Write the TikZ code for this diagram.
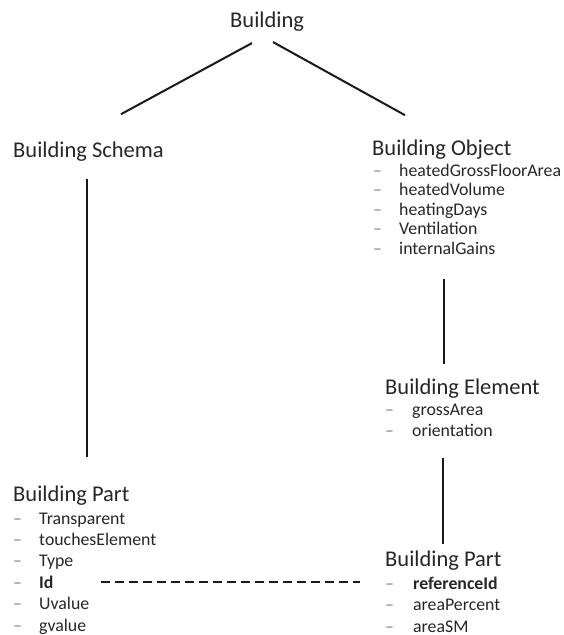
\documentclass[tikz,border=0pt]{standalone}
\usepackage{fontspec}
\setmainfont{Carlito}
\usetikzlibrary{calc}

\tikzset{
  head/.style={anchor=base west, inner sep=0pt, text=black!85, font=\fontsize{22.5}{27}\selectfont},
  attr/.style={anchor=base west, inner sep=0pt, text=black!85, font=\fontsize{17.8}{21}\selectfont},
  bullet/.style={anchor=base west, inner sep=0pt, text=black!50, font=\fontsize{17.8}{21}\selectfont},
  link/.style={line width=2pt, black!90},
  reflink/.style={line width=2.5pt, black!90, dash pattern=on 9pt off 5pt},
}

\begin{document}
\begin{tikzpicture}[x=1pt,y=-1pt]
\useasboundingbox (0,0) rectangle (563,635);

% Headings
\node[head] (building) at (230,27) {Building};
\node[head] (schema) at (13,157) {Building Schema};
\node[head] (object) at (372,155) {Building Object};
\node[head] (element) at (385,394) {Building Element};
\node[head] (lpart) at (13,501) {Building Part};
\node[head] (rpart) at (385,566) {Building Part};

% Attributes
\foreach \t [count=\i] in {heatedGrossFloorArea,heatedVolume,heatingDays,Ventilation,internalGains} {
  \node[bullet] (obd\i) at (373,{176+19.5*(\i-1)}) {–};
  \node[attr] (ob\i) at (399,{176+19.5*(\i-1)}) {\t};
}
\foreach \t [count=\i] in {grossArea,orientation} {
  \node[bullet] (eld\i) at (385,{415+21*(\i-1)}) {–};
  \node[attr] (el\i) at (412,{415+21*(\i-1)}) {\t};
}
\foreach \t [count=\i] in {Transparent,touchesElement,Type,{\textbf{Id}},Uvalue,gvalue} {
  \node[bullet] (lpd\i) at (13,{524+21.4*(\i-1)}) {–};
  \node[attr] (lp\i) at (39,{524+21.4*(\i-1)}) {\t};
}
\foreach \t [count=\i] in {{\textbf{referenceId}},areaPercent,areaSM} {
  \node[bullet] (rpd\i) at (385,{589+21.5*(\i-1)}) {–};
  \node[attr] (rp\i) at (413,{589+21.5*(\i-1)}) {\t};
}

% Tree
\draw[link] ($(building.south west)+(22,12)$) -- ($(schema.north west)+(108,-27)$);
\draw[link] ($(building.south west)+(43,11)$) -- ($(object.north west)+(33,-24)$);
\draw[link] ($(schema.south west)+(74,18)$) -- ($(lpart.north west)+(74,-28)$);
\draw[link] ($(ob5.south west)+(45,25)$) -- ($(element.north west)+(59,-14)$);
\draw[link] ($(el2.south west)+(31,22)$) -- ($(rpart.north west)+(58,-6)$);

% Reference
\draw[reflink, shorten <=47pt, shorten >=25pt] (lp4.east) -- (lp4.east -| rpd1.west);

\end{tikzpicture}
\end{document}
